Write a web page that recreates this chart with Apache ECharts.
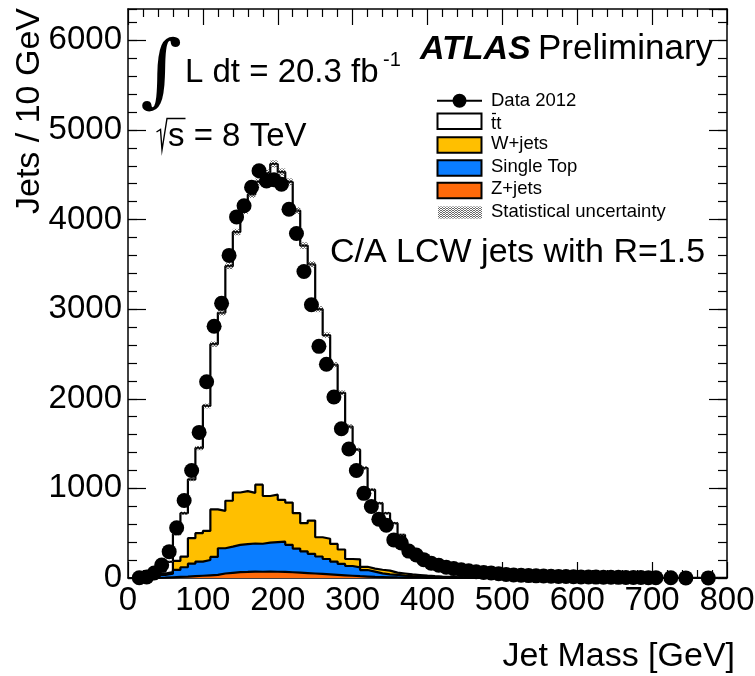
<!DOCTYPE html>
<html>
<head>
<meta charset="utf-8">
<title>Jet mass distribution</title>
<script src="https://cdn.jsdelivr.net/npm/echarts@6/dist/echarts.min.js"></script>
<style>
  html, body { margin: 0; padding: 0; background: #fff; }
  #chart { width: 755px; height: 676px; }
</style>
</head>
<body>
<div id="chart"></div>
<script>
// Lower edges of the 10 GeV jet-mass bins [GeV]
const binLow = [
  0, 10, 20, 30, 40, 50, 60, 70, 80, 90,
  100, 110, 120, 130, 140, 150, 160, 170, 180, 190,
  200, 210, 220, 230, 240, 250, 260, 270, 280, 290,
  300, 310, 320, 330, 340, 350, 360, 370, 380, 390,
  400, 410, 420, 430, 440, 450, 460, 470, 480, 490,
  500, 510, 520, 530, 540, 550, 560, 570, 580, 590,
  600, 610, 620, 630, 640, 650, 660, 670, 680, 690,
  700, 710, 720, 730, 740, 750, 760, 770, 780, 790
];

// Observed jets per bin (null = empty bin)
const dataCounts = [
  null, 3, 12, 55, 145, 294, 560, 865, 1200, 1625,
  2190, 2810, 3065, 3600, 4030, 4155, 4360, 4545, 4430, 4445,
  4395, 4115, 3845, 3420, 3050, 2585, 2385, 2020, 1665, 1440,
  1200, 945, 798, 656, 590, 425, 390, 300, 257, 205,
  165, 142, 120, 105, 92, 80, 70, 62, 55, 47,
  40, 34, 30, 27, 24, 22, 20, 18, 16, 14,
  12, 11, 10, 9, 8, 7, 6, 6, 5, 4,
  4, null, 2, null, 1, null, null, 1, null, null
];

// Simulated contributions per bin
const ttbar = [
  0, 2, 8, 10, 20, 115, 300, 485, 656, 950,
  1395, 1845, 2210, 2618, 2906, 3130, 3330, 3378, 3605, 3690,
  3658, 3578, 3377, 3098, 2859, 2545, 2272, 2000, 1748, 1478,
  1224, 1102, 879, 743, 641, 552, 431, 310, 243, 194,
  151, 110, 92, 80, 72, 63, 54, 47, 41, 36,
  32, 28, 25, 22, 19, 18, 16, 14, 12, 11,
  10, 9, 8, 7, 6, 6, 5, 5, 4, 4,
  3, 3, 3, 2, 2, 2, 2, 1, 1, 1
];
const wjets = [
  0, 0, 0, 7, 15, 17, 100, 118, 284, 317,
  324, 530, 418, 512, 585, 592, 565, 660, 520, 530,
  467, 472, 395, 314, 371, 215, 226, 197, 161, 78,
  89, 36, 34, 40, 41, 25, 24, 20, 18, 14,
  11, 9, 8, 6, 5, 4, 4, 3, 3, 3,
  2, 2, 2, 2, 2, 1, 1, 1, 1, 1,
  0, 0, 0, 0, 0, 0, 0, 0, 0, 0,
  0, 0, 0, 0, 0, 0, 0, 0, 0, 0
];
const singleTop = [
  0, 0, 0, 6, 31, 40, 78, 105, 140, 158,
  171, 200, 282, 292, 304, 310, 313, 312, 323, 330,
  337, 306, 268, 243, 220, 195, 172, 148, 127, 109,
  99, 73, 59, 42, 33, 29, 21, 16, 12, 10,
  7, 6, 4, 3, 2, 3, 2, 2, 1, 1,
  1, 1, 0, 0, 0, 0, 0, 0, 0, 0,
  0, 0, 0, 0, 0, 0, 0, 0, 0, 0,
  0, 0, 0, 0, 0, 0, 0, 0, 0, 0
];
const zjets = [
  0, 0, 0, 2, 4, 8, 12, 15, 20, 25,
  30, 35, 50, 58, 65, 68, 72, 70, 72, 70,
  68, 64, 60, 55, 50, 45, 40, 35, 30, 25,
  20, 16, 12, 10, 8, 6, 5, 4, 3, 2,
  2, 1, 1, 1, 1, 0, 0, 0, 0, 0,
  0, 0, 0, 0, 0, 0, 0, 0, 0, 0,
  0, 0, 0, 0, 0, 0, 0, 0, 0, 0,
  0, 0, 0, 0, 0, 0, 0, 0, 0, 0
];
// Statistical uncertainty (half width) on the summed prediction
const statUnc = [
  1, 2, 3, 4, 6, 10, 15, 18, 20, 24,
  27, 30, 32, 34, 36, 37, 38, 38, 39, 40,
  40, 39, 38, 36, 35, 33, 31, 29, 27, 25,
  23, 21, 19, 17, 16, 15, 13, 11, 10, 9,
  8, 7, 6, 6, 5, 5, 5, 4, 4, 4,
  4, 3, 3, 3, 3, 3, 3, 3, 2, 2,
  2, 2, 2, 2, 2, 2, 2, 2, 2, 2,
  1, 1, 1, 1, 1, 1, 1, 1, 1, 1
];

// Axis ticks
const xTickStep = 100, xMax = 800;
const yTickStep = 1000, yMinorStep = 200, yMax = 6350;

const FONT = '"Liberation Sans", Arial, Helvetica, sans-serif';
const colW = '#ffbf00', colST = '#0a7dff', colZ = '#ff6a0a';

// Stack the predictions from the bottom up
const cumZ = zjets.slice();
const cumST = cumZ.map((v, i) => v + singleTop[i]);
const cumW = cumST.map((v, i) => v + wjets[i]);
const cumTot = cumW.map((v, i) => v + ttbar[i]);

function stepPoints(cum) {
  const pts = binLow.map((e, i) => [e, cum[i]]);
  pts.push([binLow[binLow.length - 1] + 10, cum[cum.length - 1]]);
  return pts;
}

// Grey dotted fill for the uncertainty band (transparent gaps)
const pat = document.createElement('canvas');
pat.width = 3; pat.height = 2;
const pg = pat.getContext('2d');
pg.fillStyle = 'rgba(70,70,70,0.8)';
pg.fillRect(0, 0, 1, 1); pg.fillRect(2, 0, 1, 1); pg.fillRect(1, 1, 1, 1);
const hatch = { image: pat, repeat: 'repeat' };

function histLayer(cum, fill, z) {
  return {
    type: 'line', step: 'end', data: stepPoints(cum),
    symbol: 'none', silent: true, z: z,
    lineStyle: { color: '#000', width: 2.2 },
    areaStyle: { color: fill, opacity: 1 }
  };
}

const tickLine = { color: '#000', width: 1.2 };
const plainNumber = v => String(v);
function xAx(pos, labels) {
  return {
    type: 'value', position: pos, min: 0, max: xMax, interval: xTickStep,
    axisLine: { show: true, onZero: false, lineStyle: { color: '#000', width: 1.5 } },
    axisTick: { show: true, inside: true, length: 16, lineStyle: tickLine },
    minorTick: { show: true, splitNumber: 5, length: 8, lineStyle: tickLine },
    axisLabel: { show: labels, color: '#000', fontSize: 33, fontFamily: FONT, margin: 6, formatter: plainNumber },
    splitLine: { show: false }, minorSplitLine: { show: false }
  };
}
function yAx(pos, step, len, labels, line) {
  return {
    type: 'value', position: pos, min: 0, max: yMax, interval: step,
    axisLine: { show: line, onZero: false, lineStyle: { color: '#000', width: 1.5 } },
    axisTick: { show: true, inside: true, length: len, lineStyle: tickLine },
    axisLabel: { show: labels, color: '#000', fontSize: 33, fontFamily: FONT, margin: 6,
                 showMaxLabel: false, formatter: plainNumber },
    splitLine: { show: false }
  };
}

const dataPoints = [];
binLow.forEach((e, i) => { if (dataCounts[i] != null) dataPoints.push([e + 5, dataCounts[i]]); });

const txt = (x, y, text, size, extra) => Object.assign({
  type: 'text', x: x, y: y, silent: true,
  style: Object.assign({ text: text, fill: '#000', font: size + 'px ' + FONT, align: 'left', verticalAlign: 'middle' }, extra || {})
});

const legendRows = [
  { label: 'W+jets', color: colW, y: 145, ty: 143.8 },
  { label: 'Single Top', color: colST, y: 168, ty: 166.8 },
  { label: 'Z+jets', color: colZ, y: 190.5, ty: 188.8 }
];

const yTitle = txt(30, 8, 'Jets / 10 GeV', 34, { align: 'right' });
yTitle.rotation = Math.PI / 2;

const graphic = [
  // luminosity and energy
  txt(161, 76, '\u222B', 80, { align: 'center', font: '80px "DejaVu Serif", "Liberation Serif", serif' }),
  txt(185, 72.5, 'L dt = 20.3 fb', 33),
  txt(383, 60, '-1', 20),
  { type: 'polyline', silent: true, shape: { points: [[156.5, 132], [160.5, 129.5], [162, 150], [167, 118.5], [185.5, 118.5]] },
    style: { stroke: '#000', lineWidth: 1.4, fill: null } },
  txt(168, 136.5, 's = 8 TeV', 33),
  // experiment label
  txt(420, 49.5, 'ATLAS', 34, { font: 'italic bold 34px ' + FONT }),
  txt(538, 49.5, 'Preliminary', 35),
  txt(330, 253, 'C/A LCW jets with R=1.5', 34),
  // axis titles
  yTitle,
  txt(735, 657, 'Jet Mass [GeV]', 34, { align: 'right' }),
  // legend
  { type: 'line', silent: true, shape: { x1: 437, y1: 100.7, x2: 482, y2: 100.7 }, style: { stroke: '#000', lineWidth: 2 } },
  { type: 'circle', silent: true, shape: { cx: 459.5, cy: 100.7, r: 7 }, style: { fill: '#000' } },
  txt(491, 100.8, 'Data 2012', 18.5),
  { type: 'rect', silent: true, shape: { x: 437.5, y: 113.5, width: 44, height: 15.5 }, style: { fill: '#fff', stroke: '#000', lineWidth: 2 } },
  txt(491, 123.5, 'tt', 18.5),
  { type: 'line', silent: true, shape: { x1: 492, y1: 113.5, x2: 496, y2: 113.5 }, style: { stroke: '#000', lineWidth: 1.3 } },
  { type: 'rect', silent: true, shape: { x: 438, y: 206.5, width: 44, height: 12 }, style: { fill: hatch } },
  txt(491, 211.8, 'Statistical uncertainty', 18.5)
];
legendRows.forEach(r => {
  graphic.push({ type: 'rect', silent: true, shape: { x: 437.5, y: r.y - 7.75, width: 44, height: 15.5 },
    style: { fill: r.color, stroke: '#000', lineWidth: 2 } });
  graphic.push(txt(491, r.ty, r.label, 18.5));
});

const chart = echarts.init(document.getElementById('chart'), null, { renderer: 'canvas' });
chart.setOption({
  animation: false,
  backgroundColor: '#fff',
  grid: { left: 128, right: 28, top: 9, bottom: 98, containLabel: false, outerBoundsMode: 'none' },
  xAxis: [xAx('bottom', true), xAx('top', false)],
  yAxis: [
    yAx('left', yTickStep, 18, true, true),
    yAx('left', yMinorStep, 9, false, false),
    yAx('right', yTickStep, 18, false, true),
    yAx('right', yMinorStep, 9, false, false)
  ],
  series: [
    histLayer(cumTot, '#fff', 2),
    histLayer(cumW, colW, 3),
    histLayer(cumST, colST, 4),
    histLayer(cumZ, colZ, 5),
    {
      type: 'custom', silent: true, z: 6,
      data: binLow.map((e, i) => [e, cumTot[i], statUnc[i]]),
      renderItem: function (params, api) {
        const x0 = api.value(0), y = api.value(1), u = api.value(2);
        const a = api.coord([x0, y + u]);
        const b = api.coord([x0 + 10, y - u]);
        return { type: 'rect', shape: { x: a[0], y: a[1], width: b[0] - a[0], height: b[1] - a[1] },
                 style: { fill: hatch } };
      }
    },
    {
      type: 'scatter', z: 10, silent: true,
      data: dataPoints, symbol: 'circle', symbolSize: 15,
      itemStyle: { color: '#000', opacity: 1 }
    }
  ],
  graphic: graphic
});
</script>
</body>
</html>
